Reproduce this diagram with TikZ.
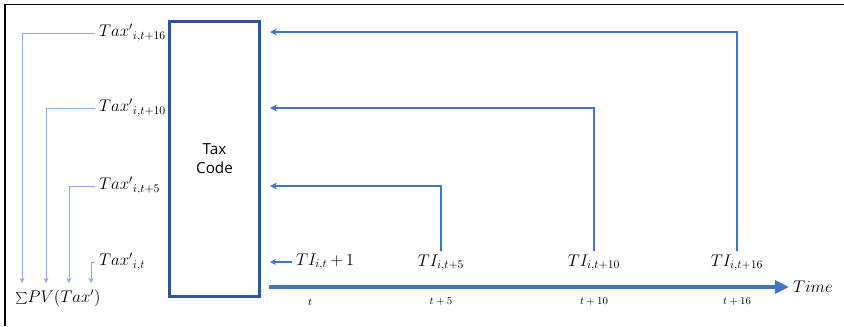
\documentclass[tikz,border=0pt]{standalone}
\usepackage{fontspec}
\setsansfont{Open Sans}
\usetikzlibrary{arrows.meta,positioning}
\definecolor{codeblue}{HTML}{2F5597}
\definecolor{flowblue}{HTML}{4472C4}
\definecolor{paleblue}{HTML}{8FAADC}

\begin{document}
\begin{tikzpicture}[x=0.03cm,y=-0.03cm,
  font=\fontsize{14}{16}\selectfont,
  frame/.style={draw=black,line width=1.1pt},
  codebox/.style={draw=codeblue,line width=2.4pt,minimum width=2.7cm,minimum height=8.25cm,
    align=center,font=\sffamily\fontsize{13}{16}\selectfont},
  fb/.style={draw=flowblue,line width=1.8pt,-{Stealth[length=6pt,width=6pt]}},
  drop/.style={draw=paleblue,line width=0.8pt,-{Stealth[length=4.5pt,width=4.5pt]}},
  axis/.style={draw=flowblue,line width=3.2pt,-{Triangle[length=12pt,width=11pt]}},
  tick/.style={font=\fontsize{9.5}{11}\selectfont}]
  \useasboundingbox (0,0) rectangle (844,326);
  \draw[frame] (5,326) -- (5,4.5) -- (844,4.5);
  \node[codebox] (code) at (214.5,159) {Tax\\Code};
  % left
  \node (sum) at (58,298) {$\sum\!PV(Tax')$};
  \foreach \n/\y/\x/\s in {16/33/22/{t+16},10/108/46/{t+10},5/186/69/{t+5},0/262/91/{t}} {
    \node[anchor=west] (tax\n) at (95,\y) {${Tax'}_{i,\s}$};
    \coordinate (d\n) at (\x,283);
    \draw[drop] (tax\n.west) -| (d\n);
  }
  % right
  \node[anchor=west] (ti1) at (292,262) {$TI_{i,t}\,{+}\,1$};
  \coordinate (in1) at (270,262);
  \draw[flowblue,line width=1.2pt,-{Stealth[length=5pt,width=5pt]}] (ti1.west) -- (in1);
  \foreach \n/\x/\y in {5/441/186,10/594/108,16/737/32} {
    \node (ti\n) at (\x,263) {$TI_{i,t+\n}$};
    \coordinate (in\n) at (270,\y);
    \draw[fb] (ti\n.north) |- (in\n);
    \node[tick] (t\n) at (\x,302) {$t+\n$};
  }
  \node[tick] (t0) at (310,302) {$t$};
  \node (time) at (813,287) {$Time$};
  \coordinate (ax0) at (269,287);
  \draw[axis] (ax0) -- (time.west);
\end{tikzpicture}
\end{document}
